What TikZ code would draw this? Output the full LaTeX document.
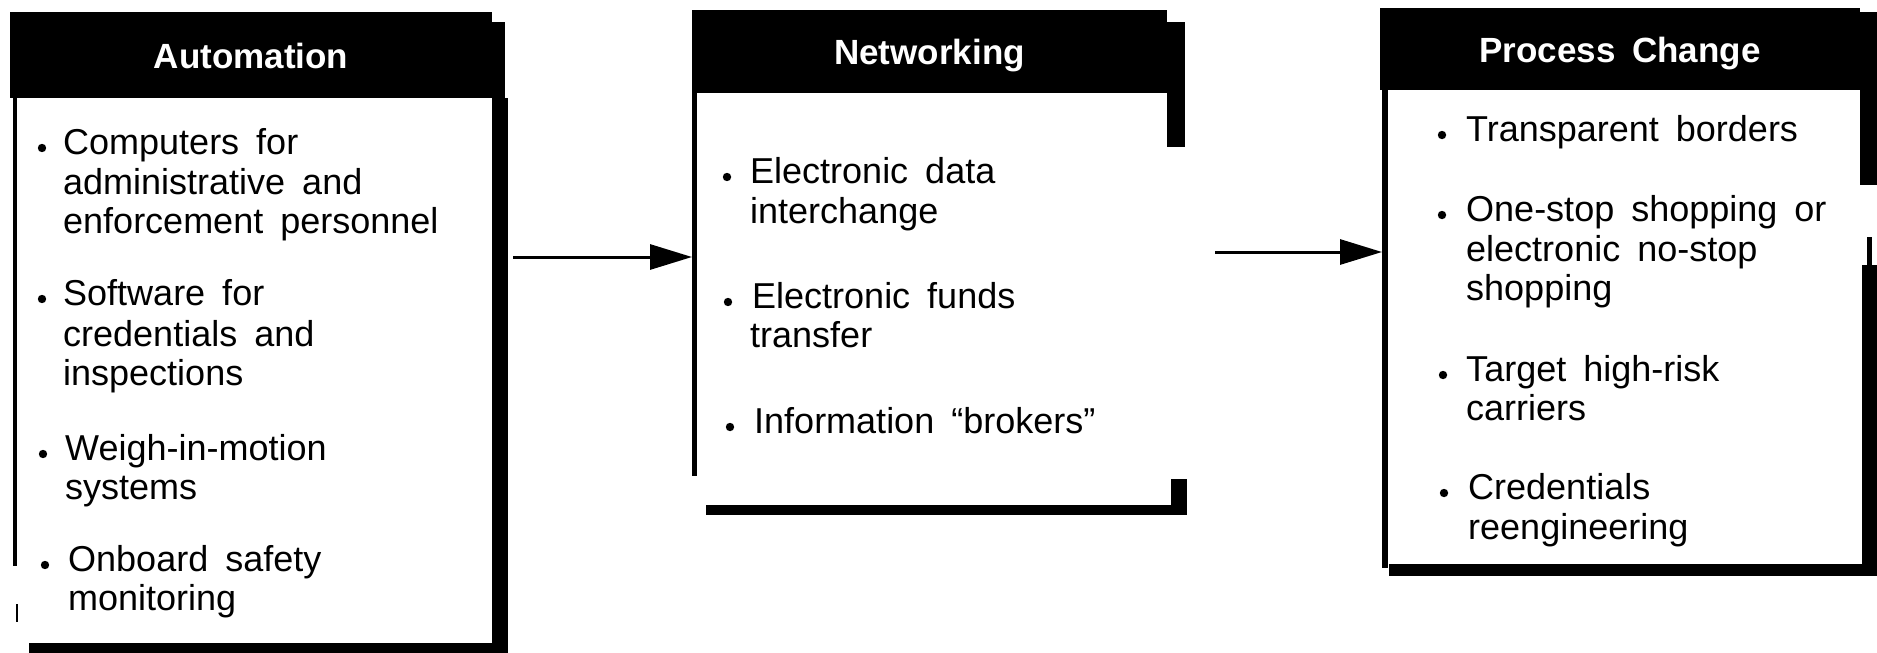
\documentclass[tikz,border=0pt]{standalone}
\usepackage{fontspec}
\setmainfont{Liberation Sans}[WordSpace=1.7]
\usetikzlibrary{arrows.meta}
\begin{document}
\begin{tikzpicture}[x=1pt,y=-1pt,
  hdr/.style={fill=black,text=white,inner sep=0pt,outer sep=0pt,
    font=\fontsize{35}{40}\selectfont\bfseries,text height=26pt,text depth=0pt},
  item/.style={font=\fontsize{36}{40}\selectfont,anchor=base west,inner sep=0pt},
  conn/.style={line width=3pt,-{Triangle[length=42pt,width=25pt]}}]
\useasboundingbox (0,0) rectangle (1877,653);
\def\br{4.2}

% ---------------- Automation ----------------
\node[hdr,minimum width=482pt,minimum height=86pt] (autoh) at (251,55) {Automation};
\fill (492,22) rectangle (505,98);
\fill (492,98) rectangle (508,653);
\fill (29,643) rectangle (508,653);
\fill (13,98) rectangle (17,566);
\fill (15.5,604) rectangle (17.5,622);
\node[item] (a1) at (63,154) {Computers for};
\node[item] (a2) at (63,194) {administrative and};
\node[item] (a3) at (63,233) {enforcement personnel};
\node[item] (a4) at (63,305) {Software for};
\node[item] (a5) at (63,346) {credentials and};
\node[item] (a6) at (63,385) {inspections};
\node[item] (a7) at (65,460) {Weigh-in-motion};
\node[item] (a8) at (65,499) {systems};
\node[item] (a9) at (68,571) {Onboard safety};
\node[item] (a10) at (68,610) {monitoring};
\fill (42,148) circle (\br);
\fill (42,299) circle (\br);
\fill (43,454) circle (\br);
\fill (45,565) circle (\br);

% ---------------- Networking ----------------
\node[hdr,minimum width=475pt,minimum height=83pt] (neth) at (929.5,51.5) {Networking};
\fill (1167,22) rectangle (1185,147);
\fill (692,93) rectangle (697,476);
\fill (706,505) rectangle (1187,515);
\fill (1171,479) rectangle (1187,515);
\node[item] (n1) at (750,183) {Electronic data};
\node[item] (n2) at (750,223) {interchange};
\node[item] (n3) at (752,308) {Electronic funds};
\node[item] (n4) at (750,347) {transfer};
\node[item] (n5) at (754,433) {Information “brokers”};
\fill (727,177) circle (\br);
\fill (728,302) circle (\br);
\fill (730,427) circle (\br);

% ---------------- Process Change ----------------
\node[hdr,minimum width=480pt,minimum height=82pt] (proch) at (1620,49) {Process Change};
\fill (1860,12) rectangle (1877,185);
\fill (1382,90) rectangle (1388,568);
\fill (1867,237) rectangle (1872,267);
\fill (1862,265) rectangle (1877,576);
\fill (1389,564) rectangle (1877,576);
\node[item] (p1) at (1466,141) {Transparent borders};
\node[item] (p2) at (1466,221) {One-stop shopping or};
\node[item] (p3) at (1466,261) {electronic no-stop};
\node[item] (p4) at (1466,300) {shopping};
\node[item] (p5) at (1466,381) {Target high-risk};
\node[item] (p6) at (1466,420) {carriers};
\node[item] (p7) at (1468,499) {Credentials};
\node[item] (p8) at (1468,539) {reengineering};
\fill (1442,135) circle (\br);
\fill (1442,215) circle (\br);
\fill (1443,375) circle (\br);
\fill (1444,493) circle (\br);

% ---------------- connectors ----------------
\coordinate (a1s) at (513,257);
\coordinate (netin) at (692,257);
\coordinate (a2s) at (1215,252);
\coordinate (procin) at (1382,252);
\draw[conn] (a1s) -- (netin);
\draw[conn] (a2s) -- (procin);
\end{tikzpicture}
\end{document}
